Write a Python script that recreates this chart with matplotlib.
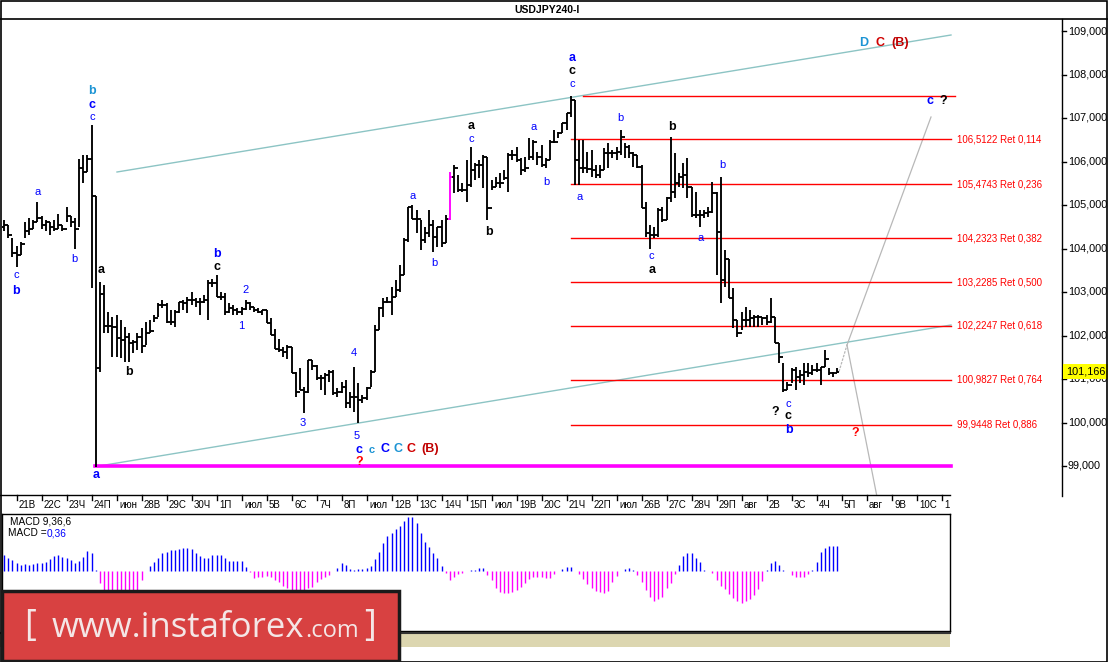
import matplotlib
matplotlib.use('Agg')
import matplotlib.pyplot as plt
import numpy as np
from matplotlib.lines import Line2D
from matplotlib.patches import Rectangle

# ---------------- data ----------------
highs = [104.66, 104.55, 104.25, 104.05, 104.15, 104.60, 104.70, 104.65, 105.07, 104.75,
         104.65, 104.60, 104.65, 104.80, 104.55, 104.95, 104.75, 104.70, 106.05, 106.15,
         106.15, 106.84, 105.20, 103.23, 103.16, 102.54, 102.42, 102.47, 102.36, 102.20,
         102.05, 101.90, 102.05, 102.17, 102.31, 102.36, 102.47, 102.75, 102.82, 102.75,
         102.59, 102.59, 102.78, 102.82, 102.89, 103.00, 102.86, 102.86, 102.93, 103.28,
         103.31, 103.39, 103.00, 102.97, 102.74, 102.70, 102.63, 102.66, 102.82, 102.78,
         102.66, 102.63, 102.59, 102.59, 102.40, 102.16, 101.93, 101.74, 101.78, 101.74,
         101.17, 101.25, 100.82, 101.44, 101.44, 101.32, 101.09, 101.13, 101.21, 101.21,
         100.79, 100.94, 100.98, 100.71, 101.28, 100.90, 100.63, 100.82, 101.21, 102.24,
         102.66, 102.86, 102.89, 103.12, 103.28, 103.62, 104.23, 104.96, 105.00, 104.89,
         104.66, 104.50, 104.89, 104.66, 104.50, 104.66, 104.77, 105.77, 105.92, 105.69,
         105.50, 106.03, 106.34, 105.96, 106.03, 106.15, 106.11, 105.57, 105.65, 105.73,
         105.80, 106.19, 106.26, 106.34, 106.07, 106.11, 106.53, 106.49, 106.22, 106.38,
         106.07, 106.49, 106.72, 106.68, 106.88, 107.11, 107.50, 107.41, 106.49, 106.49,
         106.22, 106.26, 105.92, 105.92, 106.30, 106.42, 106.26, 106.34, 106.72, 106.42,
         106.38, 106.22, 106.15, 105.92, 105.08, 104.54, 104.50, 104.92, 104.96, 105.19,
         106.57, 106.19, 105.73, 105.96, 106.07, 105.42, 105.31, 104.89, 104.89, 104.96,
         105.54, 105.31, 105.65, 103.97, 103.77, 103.09, 102.36, 102.54, 102.66, 102.59,
         102.47, 102.47, 102.43, 102.47, 102.86, 102.43, 101.82, 101.36, 100.94, 101.25,
         101.28, 101.21, 101.36, 101.36, 101.32, 101.36, 101.28, 101.67, 101.25, 101.17,
         101.25]
lows = [104.40, 104.25, 103.80, 103.57, 103.85, 104.25, 104.30, 104.45, 104.60, 104.45,
        104.40, 104.30, 104.40, 104.45, 104.40, 104.60, 104.50, 104.00, 104.50, 105.50,
        105.75, 103.10, 98.97, 101.16, 102.05, 102.05, 101.50, 101.50, 101.48, 101.40,
        101.40, 101.60, 101.67, 101.60, 101.78, 102.05, 102.31, 102.42, 102.63, 102.29,
        102.24, 102.20, 102.51, 102.59, 102.51, 102.70, 102.66, 102.47, 102.74, 102.36,
        103.12, 102.89, 102.82, 102.47, 102.51, 102.47, 102.47, 102.47, 102.59, 102.59,
        102.55, 102.51, 102.47, 102.28, 102.01, 101.70, 101.63, 101.51, 101.47, 101.13,
        100.59, 100.75, 100.21, 100.67, 101.21, 100.98, 100.75, 100.63, 100.94, 100.63,
        100.59, 100.67, 100.33, 100.33, 100.25, 99.98, 100.44, 100.52, 100.82, 101.17,
        102.13, 102.43, 102.74, 102.47, 102.89, 103.00, 103.39, 104.16, 104.67, 104.35,
        103.97, 104.12, 104.27, 103.93, 104.04, 104.04, 104.12, 104.66, 105.27, 105.31,
        105.31, 105.08, 105.42, 105.57, 105.61, 105.38, 104.66, 105.34, 105.42, 105.38,
        105.57, 105.31, 106.03, 106.00, 105.69, 105.76, 106.03, 106.03, 105.92, 105.88,
        105.84, 106.03, 106.42, 106.53, 106.65, 106.72, 107.03, 105.46, 105.46, 105.73,
        105.73, 105.65, 105.61, 105.61, 105.80, 105.84, 106.07, 106.03, 106.15, 106.07,
        106.07, 105.88, 105.84, 104.92, 104.27, 104.00, 104.23, 104.27, 104.62, 104.66,
        105.08, 105.15, 105.42, 105.38, 105.15, 104.73, 104.69, 104.50, 104.69, 104.73,
        104.81, 103.39, 102.74, 103.12, 102.86, 102.17, 101.97, 102.13, 102.20, 102.20,
        102.20, 102.20, 102.24, 102.24, 102.28, 101.82, 101.36, 100.71, 100.75, 100.90,
        100.75, 100.90, 100.86, 101.05, 101.09, 101.17, 100.86, 101.28, 101.09, 101.05,
        101.13]
closes = [104.55, 104.30, 103.90, 103.85, 104.10, 104.40, 104.45, 104.60, 104.70, 104.55,
          104.60, 104.50, 104.45, 104.55, 104.45, 104.75, 104.60, 104.45, 105.85, 105.75,
          106.05, 105.20, 101.25, 102.95, 102.22, 102.22, 102.20, 101.95, 101.90, 101.97,
          101.83, 101.85, 101.97, 101.75, 102.05, 102.10, 102.40, 102.70, 102.70, 102.31,
          102.31, 102.54, 102.76, 102.74, 102.82, 102.82, 102.78, 102.78, 102.82, 103.20,
          103.20, 102.89, 102.89, 102.55, 102.63, 102.59, 102.55, 102.60, 102.74, 102.66,
          102.59, 102.55, 102.59, 102.28, 102.01, 101.70, 101.67, 101.63, 101.74, 101.13,
          100.71, 100.75, 100.71, 101.44, 101.30, 101.02, 101.02, 101.09, 101.17, 100.67,
          100.71, 100.82, 100.44, 100.59, 100.59, 100.52, 100.56, 100.79, 101.17, 102.13,
          102.63, 102.78, 102.78, 102.89, 103.05, 103.39, 104.20, 104.96, 104.67, 104.67,
          104.20, 104.35, 104.54, 104.27, 104.50, 104.12, 104.67, 105.65, 105.84, 105.34,
          105.34, 105.46, 105.80, 105.92, 105.92, 106.11, 104.92, 105.42, 105.50, 105.50,
          105.61, 106.15, 106.15, 106.03, 105.80, 105.84, 106.11, 106.45, 106.11, 105.92,
          106.03, 106.45, 106.45, 106.65, 106.88, 107.11, 107.41, 106.03, 105.84, 105.84,
          105.82, 105.80, 105.70, 105.80, 106.19, 106.19, 106.19, 106.22, 106.57, 106.34,
          106.19, 106.15, 105.88, 104.92, 104.35, 104.31, 104.31, 104.89, 104.66, 105.15,
          105.31, 105.50, 105.65, 105.69, 105.42, 104.77, 104.77, 104.77, 104.81, 104.85,
          105.27, 104.39, 103.28, 103.77, 102.86, 102.36, 102.05, 102.36, 102.36, 102.40,
          102.43, 102.43, 102.40, 102.31, 102.43, 101.82, 101.51, 100.75, 100.86, 101.21,
          101.05, 101.09, 101.17, 101.13, 101.21, 101.21, 101.28, 101.47, 101.13, 101.13,
          101.17]
first_open = 104.50
highlight_bar = 107   # bar drawn in magenta

macd_hist = [0.23, 0.18, 0.16, 0.11, 0.09, 0.10, 0.09, 0.10, 0.11, 0.12,
             0.135, 0.17, 0.22, 0.23, 0.20, 0.18, 0.16, 0.11, 0.15, 0.205,
             0.285, 0.26, 0.02, -0.17, -0.30, -0.38, -0.42, -0.44, -0.44, -0.42,
             -0.38, -0.33, -0.27, -0.12, 0.01, 0.075, 0.135, 0.18, 0.26, 0.275,
             0.30, 0.30, 0.31, 0.32, 0.32, 0.31, 0.26, 0.21, 0.18, 0.18,
             0.23, 0.23, 0.23, 0.18, 0.15, 0.15, 0.15, 0.15, 0.056, -0.01,
             -0.10, -0.085, -0.085, -0.065, -0.085, -0.12, -0.145, -0.205, -0.24, -0.27,
             -0.30, -0.29, -0.27, -0.24, -0.215, -0.145, -0.11, -0.085, -0.05, 0.005,
             0.04, 0.11, 0.09, 0.03, 0.02, 0.03, 0.03, 0.04, 0.075, 0.175,
             0.275, 0.39, 0.495, 0.53, 0.59, 0.635, 0.70, 0.76, 0.76, 0.675,
             0.53, 0.415, 0.345, 0.26, 0.18, 0.075, -0.03, -0.12, -0.075, -0.04,
             -0.02, 0.0, 0.02, 0.02, 0.04, 0.04, -0.05, -0.12, -0.24, -0.285,
             -0.30, -0.30, -0.285, -0.26, -0.215, -0.17, -0.11, -0.085, -0.085, -0.085,
             -0.10, -0.10, -0.04, 0.0, 0.03, 0.055, 0.055, 0.01, -0.04, -0.11,
             -0.18, -0.24, -0.27, -0.285, -0.31, -0.27, -0.145, -0.065, 0.01, 0.03,
             0.04, 0.02, -0.05, -0.145, -0.26, -0.355, -0.41, -0.39, -0.355, -0.24,
             -0.16, -0.04, 0.09, 0.215, 0.26, 0.25, 0.19, 0.135, 0.02, 0.0,
             -0.03, -0.12, -0.205, -0.25, -0.32, -0.38, -0.41, -0.44, -0.41, -0.39,
             -0.33, -0.25, -0.13, 0.02, 0.12, 0.15, 0.09, 0.02, 0.0, -0.05,
             -0.075, -0.085, -0.085, -0.04, 0.02, 0.135, 0.275, 0.32, 0.355, 0.355,
             0.36]

fib_levels = [106.5122, 105.4743, 104.2323, 103.2285, 102.2247, 100.9827, 99.9448]
fib_ratios = ['0,114', '0,236', '0,382', '0,500', '0,618', '0,764', '0,886']
fib_top = 107.50
support_level = 99.0
last_price = 101.166
price_ticks = [99, 100, 101, 102, 103, 104, 105, 106, 107, 108, 109]
date_labels = ['21В', '22С', '23Ч', '24П', 'июн', '28В', '29С', '30Ч', '1П', 'июл',
               '5В', '6С', '7Ч', '8П', 'июл', '12В', '13С', '14Ч', '15П', 'июл',
               '19В', '20С', '21Ч', '22П', 'июл', '26В', '27С', '28Ч', '29П', 'авг',
               '2В', '3С', '4Ч', '5П', 'авг', '9В', '10С', '1']

# ---------------- layout helpers ----------------
W, H = 1108, 662
fig = plt.figure(figsize=(W / 100, H / 100), dpi=100)
fig.patch.set_facecolor('white')

def fx(px):
    return px / W

def fy(py):
    return 1 - py / H

PXB = 4.1667
X0 = 4.0
def bar_of(px):
    return (px - X0) / PXB

def price_of(py):
    return 109 - (py - 31) / 43.5

def fline(x1, y1, x2, y2, color='black', lw=1.0, z=5):
    fig.add_artist(Line2D([fx(x1), fx(x2)], [fy(y1), fy(y2)], color=color, lw=lw,
                          transform=fig.transFigure, zorder=z))

FONT = 'Liberation Sans'
BLUE = '#0000ff'
TEAL = '#1c94d4'
MAG = '#ff00ff'

# ---------------- main price panel ----------------
ax = fig.add_axes([fx(1), fy(495), fx(1062) - fx(1), fy(20) - fy(495)])
ax.set_xlim(bar_of(1), bar_of(1062))
ax.set_ylim(price_of(495), price_of(20))
ax.axis('off')

n = len(closes)
idx = np.arange(n)
opens = np.r_[first_open, np.array(closes[:-1])]
cols = ['black'] * n
cols[highlight_bar] = MAG
tick = 0.5
ax.vlines(idx, lows, highs, colors=cols, lw=1.35, zorder=4)
ax.hlines(opens, idx - tick, idx, colors=cols, lw=1.35, zorder=4)
ax.hlines(closes, idx, idx + tick, colors=cols, lw=1.35, zorder=4)

# channel lines
ch = '#8cc4c4'
ax.plot([bar_of(117), bar_of(951)], [price_of(172), price_of(35)], color=ch, lw=1.0, zorder=2)
ax.plot([bar_of(96), bar_of(951)], [price_of(466.5), price_of(325)], color=ch, lw=1.0, zorder=2)
# support line
ax.plot([bar_of(95), bar_of(951)], [support_level, support_level], color=MAG, lw=2.6, zorder=3)
# fib lines
x_f0, x_f1 = bar_of(571), bar_of(951)
ax.plot([bar_of(583), bar_of(955)], [fib_top, fib_top], color='#ff0000', lw=1.0, zorder=3)
for lv, r in zip(fib_levels, fib_ratios):
    ax.plot([x_f0, x_f1], [lv, lv], color='#ff0000', lw=1.0, zorder=3)
    ax.text(bar_of(957), lv, f"{lv:.4f}".replace('.', ',') + f" Ret {r}", color='#ff0000',
            fontsize=7, family=FONT, ha='left', va='center', zorder=6)
# projection lines
pv = (bar_of(847), price_of(345))
gr = '#b8b8b8'
ax.plot([bar_of(839), pv[0]], [closes[-1], pv[1]], color=gr, lw=0.9, ls=(0, (2, 1)), zorder=2)
ax.plot([pv[0], bar_of(931)], [pv[1], price_of(117)], color=gr, lw=0.9, zorder=2)
ax.plot([pv[0], bar_of(880)], [pv[1], price_of(512)], color=gr, lw=0.9, zorder=2)

# wave labels: (text, x_px, y_px, color, bold, size)
labels = [
    ('c', 16, 275, BLUE, False, 8), ('b', 16, 291, BLUE, True, 9),
    ('a', 38, 192, BLUE, False, 8), ('b', 74, 259, BLUE, False, 8),
    ('b', 92, 91, TEAL, True, 9), ('c', 92, 105, BLUE, True, 9), ('c', 92, 117, BLUE, False, 8),
    ('a', 101, 270, 'black', True, 9), ('a', 96, 475, BLUE, True, 9),
    ('b', 129, 372, 'black', True, 9),
    ('b', 217, 254, BLUE, True, 9), ('c', 217, 267, 'black', True, 9),
    ('2', 246, 290, BLUE, False, 8), ('1', 241, 326, BLUE, False, 8),
    ('3', 303, 423, BLUE, False, 8), ('4', 354, 353, BLUE, False, 8), ('5', 357, 436, BLUE, False, 8),
    ('c', 359, 450, BLUE, True, 9), ('c', 372, 450, TEAL, True, 8), ('C', 385, 449, BLUE, True, 9),
    ('C', 398, 449, TEAL, True, 9), ('C', 411, 449, '#d00000', True, 9), ('(B)', 430, 449, '#c00000', True, 9),
    ('?', 359, 462, '#ff0000', True, 9),
    ('a', 413, 196, BLUE, False, 8), ('b', 434, 263, BLUE, False, 8),
    ('a', 471, 126, 'black', True, 9), ('c', 471, 139, BLUE, False, 8),
    ('b', 489, 232, 'black', True, 9),
    ('a', 534, 127, BLUE, False, 8), ('b', 546, 182, BLUE, False, 8),
    ('a', 572, 58, BLUE, True, 9), ('c', 572, 71, 'black', True, 9), ('c', 572, 84, BLUE, False, 8),
    ('a', 580, 197, BLUE, False, 8), ('b', 620, 118, BLUE, False, 8),
    ('b', 672, 127, 'black', True, 9),
    ('c', 651, 256, BLUE, False, 8), ('a', 652, 270, 'black', True, 9),
    ('a', 701, 238, BLUE, False, 8), ('b', 722, 165, BLUE, False, 8),
    ('?', 775, 412, 'black', True, 9), ('c', 788, 404, BLUE, False, 8),
    ('c', 788, 416, 'black', True, 9), ('b', 789, 430, BLUE, True, 9),
    ('?', 855, 433, '#ff0000', True, 9),
    ('D', 864, 43, TEAL, True, 9), ('C', 880, 43, '#d00000', True, 9), ('(B)', 900, 43, '#c00000', True, 9),
    ('c', 930, 101, BLUE, True, 9), ('?', 943, 101, 'black', True, 9),
]
for t, xp, yp, c, b, s in labels:
    ax.text(bar_of(xp), price_of(yp), t, color=c, fontsize=s, family=FONT,
            fontweight='bold' if b else 'normal', ha='center', va='center', zorder=7)

# ---------------- frame, title, price scale ----------------
fig.add_artist(Rectangle((fx(0.5), fy(661.5)), fx(1107) - fx(0.5), fy(0.5) - fy(661.5),
                         transform=fig.transFigure, fill=False, ec='black', lw=1.2, zorder=10))
fline(0, 19, 1108, 19, lw=1.2)
fig.text(fx(547), fy(10), 'USDJPY240-I', fontsize=7.5, fontweight='bold', family=FONT,
         ha='center', va='center')
fline(1062, 19, 1062, 496, lw=1.0)
yl = 31 + (109 - last_price) * 43.5
for p in price_ticks:
    yp = 31 + (109 - p) * 43.5
    fline(1062, yp, 1066, yp, lw=1.0)
    fig.text(fx(1068), fy(yp), f"{p},000", fontsize=7.8, family=FONT, ha='left', va='center',
             zorder=3)
fig.add_artist(Rectangle((fx(1063), fy(yl + 7.5)), fx(1108) - fx(1063), fy(yl - 7.5) - fy(yl + 7.5),
                         transform=fig.transFigure, fc='#ffff00', ec='none', zorder=8))
fig.text(fx(1066), fy(yl), f"{last_price:.3f}".replace('.', ','), fontsize=7.8, family=FONT,
         ha='left', va='center', zorder=9)

# ---------------- date axis ----------------
fline(0, 495, 950, 495, lw=1.0)
for k, lab in enumerate(date_labels):
    xb = 3 + 6 * k
    xp = X0 + PXB * xb
    fline(xp, 495, xp, 500, lw=1.0)
    fig.text(fx(xp + 2.5), fy(505), lab, fontsize=7, family=FONT, ha='left', va='center')

# ---------------- MACD panel ----------------
mx = fig.add_axes([fx(2), fy(631), fx(950) - fx(2), fy(514) - fy(631)])
mx.set_xlim(bar_of(2), bar_of(950))
mx.set_ylim(-(631 - 571.3) / 71.4, (571.3 - 514) / 71.4)
mh = np.array(macd_hist)
mc = np.where(mh >= 0, BLUE, MAG)
mx.vlines(np.arange(len(mh)), 0, mh, colors=mc, lw=1.0)
mx.set_xticks([])
mx.set_yticks([])
for s in mx.spines.values():
    s.set_linewidth(1.0)
renderer = fig.canvas.get_renderer()
fig.text(fx(10), fy(522), 'MACD 9,36,6', fontsize=7.3, family=FONT, ha='left', va='center')
t_eq = fig.text(fx(8), fy(533), 'MACD =', fontsize=7.3, family=FONT, ha='left', va='center')
bbe = t_eq.get_window_extent(renderer=renderer)
fig.text(bbe.x1 / W, fy(533), f"{mh[-1]:.2f}".replace('.', ','), fontsize=7.3,
         family=FONT, color=BLUE, ha='left', va='center')

# hatched strip
fline(0, 632.5, 950, 632.5, color='#333333', lw=1.5)
fig.add_artist(Rectangle((fx(0), fy(647)), fx(950), fy(634) - fy(647), transform=fig.transFigure,
                         fc='#dcd6b0', ec='none', hatch='....', zorder=1))

# ---------------- logo ----------------
fig.add_artist(Rectangle((fx(1.5), fy(660.5)), fx(399) - fx(1.5), fy(591) - fy(660.5),
                         transform=fig.transFigure, fc='#d84141', ec='#1a1a1a', lw=2.5, zorder=11))
LOGO_C = '#f4e6e6'
fig.text(fx(30), fy(626), '[', fontsize=26, family='Open Sans', color=LOGO_C,
         ha='center', va='center', zorder=12)
t_main = fig.text(fx(52), fy(637), 'www.instaforex', fontsize=25, family='Open Sans',
                  color=LOGO_C, ha='left', va='baseline', zorder=12)
bb = t_main.get_window_extent(renderer=renderer)
t_com = fig.text(bb.x1 / W + 0.0005, fy(637), '.com', fontsize=17, family='Open Sans',
                 color=LOGO_C, ha='left', va='baseline', zorder=12)
bb2 = t_com.get_window_extent(renderer=renderer)
fig.text(bb2.x1 / W + 5 / W, fy(626), ']', fontsize=26, family='Open Sans', color=LOGO_C,
         ha='left', va='center', zorder=12)

fig.savefig('out.png', dpi=100)
